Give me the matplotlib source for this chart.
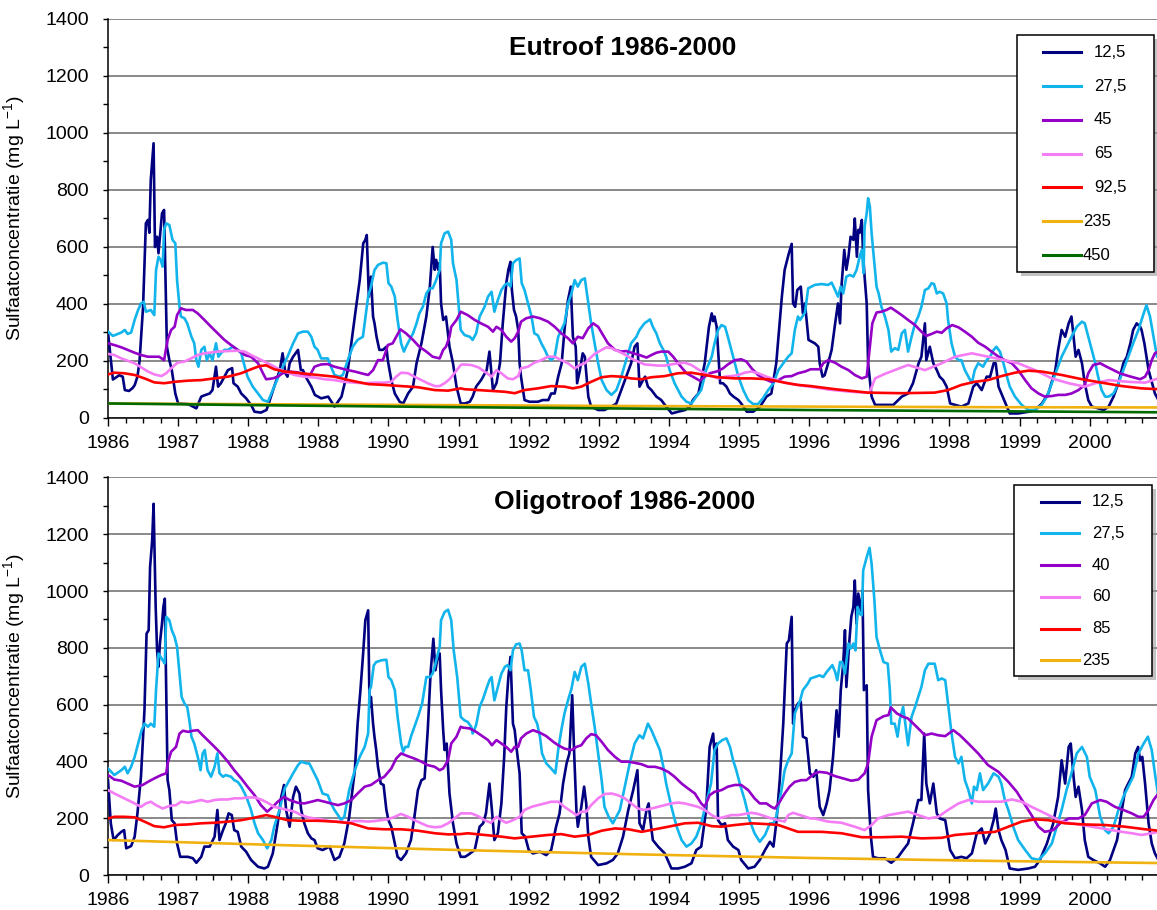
import matplotlib.pyplot as plt
import numpy as np
from matplotlib.patches import Rectangle
from matplotlib.lines import Line2D

plt.rcParams['font.family'] = ['Liberation Sans', 'DejaVu Sans']
plt.rcParams['mathtext.default'] = 'regular'

W, H = 1157, 910
START = 1986
X_END = 2000.96

tick_years = list(range(1986, 2001))
tick_labels = ['1986', '1987', '1988', '1988', '1990', '1991', '1992', '1992',
               '1994', '1995', '1996', '1996', '1998', '1999', '2000']

# (jaren na 1 jan 1986, sulfaat mg/L)
eu_125 = [(0.00,300),(0.07,135),(0.16,150),(0.21,145),(0.24,98),(0.30,95),(0.35,105),(0.38,115),(0.42,145),(0.45,200),
          (0.50,390),(0.54,683),(0.57,695),(0.59,650),(0.61,835),(0.65,964),(0.67,600),(0.70,636),(0.72,578),(0.75,660),
          (0.77,718),(0.80,730),(0.82,484),(0.84,250),(0.875,203),(0.91,168),(0.96,86),(1.00,51),(1.14,49),(1.26,34),
          (1.33,75),(1.38,80),(1.45,86),(1.49,98),(1.54,180),(1.57,110),(1.61,122),(1.66,145),(1.71,168),(1.77,175),
          (1.79,122),(1.85,110),(1.90,86),(1.97,69),(2.04,46),(2.09,22),(2.18,19),(2.26,28),(2.30,57),(2.37,110),
          (2.45,168),(2.49,227),(2.53,157),(2.56,145),(2.59,192),(2.64,215),(2.71,239),(2.75,168),(2.78,168),(2.83,140),
          (2.90,110),(2.95,81),(3.04,69),(3.14,75),(3.23,40),(3.33,75),(3.42,168),(3.52,356),(3.59,484),(3.64,613),
          (3.67,625),(3.69,642),(3.72,426),(3.75,496),(3.78,356),(3.80,333),(3.83,285),(3.87,239),(3.92,239),(3.97,250),
          (3.99,203),(4.04,133),(4.09,86),(4.16,57),(4.21,51),(4.28,86),(4.35,110),(4.40,192),(4.47,262),(4.54,356),
          (4.59,460),(4.63,600),(4.66,520),(4.68,555),(4.71,520),(4.73,545),(4.75,402),(4.78,344),(4.82,356),(4.87,250),
          (4.92,192),(4.97,110),(5.03,51),
          (5.09,51),(5.16,57),(5.20,75),(5.25,110),(5.32,133),(5.40,168),(5.44,233),(5.49,98),(5.54,122),(5.59,192),
          (5.63,332),(5.68,473),(5.71,520),(5.74,548),(5.76,449),(5.79,379),(5.82,356),(5.85,309),(5.87,192),(5.89,145),
          (5.94,63),(6.01,57),(6.13,57),(6.20,63),(6.28,63),(6.32,86),(6.37,86),(6.42,145),(6.47,192),(6.51,309),
          (6.56,414),(6.60,461),(6.63,285),(6.67,250),(6.69,122),(6.73,168),(6.77,227),(6.80,215),(6.85,75),(6.89,40),
          (6.99,28),(7.08,28),(7.18,40),(7.25,51),(7.32,98),(7.39,145),(7.46,192),(7.51,250),(7.55,262),(7.58,110),
          (7.63,133),(7.66,145),(7.70,110),(7.75,98),(7.82,75),(7.89,63),(7.96,40),(8.04,16),(8.13,22),(8.23,28),
          (8.30,40),(8.34,63),(8.42,86),(8.51,192),(8.57,320),(8.61,367),(8.63,340),(8.65,356),(8.68,320),(8.70,239),
          (8.73,122),(8.77,122),(8.82,110),(8.87,86),(8.92,75),(8.99,63),(9.03,51),(9.11,22),(9.20,22),(9.30,40),
          (9.39,75),(9.46,86),(9.53,192),(9.61,426),(9.65,520),(9.71,578),(9.75,611),(9.77,402),(9.80,390),(9.83,449),
          (9.88,461),(9.91,367),(9.94,402),(9.99,274),
          (10.08,262),(10.13,250),(10.15,192),(10.19,145),(10.22,150),(10.27,192),(10.32,239),(10.37,332),(10.41,402),
          (10.44,332),(10.46,461),(10.50,590),(10.53,520),(10.56,566),(10.59,636),(10.63,625),(10.65,700),(10.68,566),
          (10.70,660),(10.72,650),(10.75,695),(10.77,566),(10.79,496),(10.82,402),(10.84,192),(10.89,75),(10.94,46),
          (11.03,46),(11.13,46),(11.20,46),(11.27,63),(11.32,75),(11.41,86),(11.48,122),(11.56,192),(11.60,215),
          (11.65,332),(11.67,203),(11.72,250),(11.77,192),(11.82,168),(11.86,145),(11.91,133),(11.96,110),(12.01,51),
          (12.08,46),(12.17,40),(12.27,51),(12.34,110),(12.39,122),(12.46,98),(12.53,145),(12.58,145),(12.63,192),
          (12.66,192),(12.70,110),(12.74,86),(12.80,51),(12.86,16),(12.98,16),(13.13,22),(13.22,28),(13.32,51),
          (13.41,86),(13.51,168),(13.55,239),(13.60,309),(13.65,285),(13.70,332),(13.74,356),(13.77,285),(13.80,215),
          (13.84,239),(13.89,192),(13.93,122),(13.98,63),(14.03,40),(14.12,34),(14.20,28),(14.27,40),(14.34,75),
          (14.41,122),(14.48,192),(14.53,215),(14.58,262),(14.62,309),(14.67,332),(14.72,320),(14.74,309),(14.78,262),
          (14.84,168),(14.89,122),(14.93,86),(14.98,63)]

eu_275 = [(0.00,303),(0.07,288),(0.19,300),(0.24,309),(0.28,295),(0.33,300),(0.38,344),(0.42,373),(0.47,402),(0.51,408),
          (0.54,373),(0.61,379),(0.66,361),(0.685,519),(0.72,566),(0.75,555),(0.78,531),(0.80,660),(0.83,683),(0.875,677),
          (0.92,625),(0.96,613),(0.985,484),(1.02,390),(1.04,356),(1.09,350),(1.13,332),(1.16,309),(1.19,285),(1.23,262),
          (1.26,203),(1.29,180),(1.33,239),(1.375,250),(1.41,203),(1.45,227),(1.49,203),(1.54,262),(1.575,215),(1.61,227),
          (1.66,239),(1.71,239),(1.78,250),(1.85,239),(1.90,227),(1.95,180),(1.99,145),(2.065,110),(2.14,86),(2.21,63),
          (2.28,57),(2.37,110),(2.47,168),(2.56,215),(2.64,262),(2.71,297),(2.78,303),(2.85,303),(2.90,285),(2.945,250),
          (2.99,239),(3.04,209),(3.135,209),(3.18,180),(3.23,151),(3.30,145),(3.35,151),(3.42,203),(3.49,250),(3.56,274),
          (3.635,285),(3.71,426),(3.75,461),(3.80,519),(3.85,537),(3.92,545),(3.97,543),(4.00,473),(4.04,461),(4.09,426),
          (4.13,344),(4.18,262),(4.22,233),(4.25,250),(4.30,274),(4.35,297),(4.40,332),(4.44,367),(4.49,390),(4.54,437),
          (4.59,455),(4.63,455),(4.68,484),(4.73,519),(4.75,613),(4.80,648),(4.85,654),(4.895,625),(4.92,543),(4.97,484),
          (5.03,309),
          (5.085,291),(5.16,285),(5.20,274),(5.25,297),(5.30,356),(5.37,390),(5.42,426),(5.47,443),(5.51,373),(5.56,414),
          (5.61,449),(5.66,467),(5.70,473),(5.74,461),(5.775,543),(5.82,554),(5.87,560),(5.90,473),(5.94,449),(5.99,402),
          (6.04,356),(6.08,297),(6.13,290),(6.18,262),(6.23,239),(6.275,215),(6.32,203),(6.37,215),(6.42,285),(6.465,309),
          (6.51,332),(6.56,402),(6.61,437),(6.655,484),(6.70,461),(6.75,484),(6.80,490),(6.85,402),(6.89,332),(6.94,262),
          (6.99,192),(7.04,133),(7.11,98),(7.18,81),(7.25,98),(7.32,145),(7.39,203),(7.46,262),(7.535,285),(7.58,309),
          (7.65,332),(7.73,346),(7.77,320),(7.82,297),(7.87,262),(7.92,239),(7.96,215),(8.01,168),(8.08,122),(8.18,75),
          (8.25,57),(8.32,51),(8.39,75),(8.46,98),(8.53,168),(8.61,215),(8.65,262),(8.70,309),(8.75,326),(8.80,320),
          (8.84,285),(8.89,239),(8.94,192),(8.99,145),(9.06,98),(9.13,63),(9.20,49),(9.27,49),(9.34,69),(9.415,98),
          (9.49,122),(9.56,168),(9.63,192),(9.70,215),(9.75,227),(9.795,309),(9.84,356),(9.87,344),(9.94,370),
          (9.985,455),(10.08,467),(10.175,470),(10.27,467),(10.32,475),(10.37,449),(10.41,426),(10.45,461),(10.485,437),
          (10.53,496),(10.58,502),(10.63,496),(10.675,519),(10.72,566),(10.75,590),(10.775,508),(10.79,671),(10.82,718),
          (10.84,771),(10.865,742),(10.89,648),(10.93,543),(10.96,461),(10.99,437),(11.03,390),(11.08,356),(11.13,309),
          (11.17,233),(11.22,245),(11.27,239),(11.32,297),(11.365,309),(11.41,233),(11.46,285),(11.51,332),(11.555,356),
          (11.60,390),(11.65,449),(11.70,455),(11.745,473),(11.78,470),(11.82,437),(11.86,443),(11.91,437),(11.96,402),
          (11.98,344),(12.03,262),(12.08,215),(12.13,203),(12.17,203),(12.22,168),(12.27,145),(12.32,122),(12.36,168),
          (12.41,192),(12.48,180),(12.53,203),(12.58,215),(12.63,239),(12.67,250),(12.72,233),(12.77,192),(12.82,145),
          (12.86,110),(12.935,75),(13.03,46),(13.125,28),(13.22,28),(13.315,46),(13.39,75),(13.46,122),(13.53,168),
          (13.60,215),(13.67,250),(13.74,285),(13.815,320),(13.89,338),(13.93,332),(13.98,285),(14.03,239),(14.08,192),
          (14.12,145),(14.17,98),(14.22,75),(14.27,75),(14.34,86),(14.41,122),(14.48,168),(14.55,215),(14.62,262),
          (14.695,309),(14.77,367),(14.81,396),(14.86,356),(14.91,285),(14.96,215),(14.98,220)]

eu_45 = [(0.00,262),(0.09,256),(0.19,248),(0.28,239),(0.38,229),(0.47,221),(0.57,215),(0.66,215),(0.73,215),(0.80,203),
         (0.85,274),(0.90,309),(0.95,320),(0.985,361),(1.04,385),(1.11,379),(1.21,379),(1.28,367),(1.375,344),(1.47,320),
         (1.565,297),(1.66,274),(1.755,256),(1.85,239),(1.95,221),(2.04,215),(2.14,192),(2.21,157),(2.255,136),(2.35,139),
         (2.42,145),(2.49,157),(2.59,163),(2.71,160),(2.80,151),(2.87,145),(2.945,180),(3.04,188),(3.135,189),(3.23,180),
         (3.325,174),(3.42,168),(3.52,163),(3.61,157),(3.71,151),(3.78,168),(3.85,203),(3.92,203),(3.97,239),(3.99,256),
         (4.06,262),(4.11,285),(4.17,311),(4.25,297),(4.35,274),(4.44,250),(4.54,233),(4.63,215),(4.73,209),(4.78,239),
         (4.82,250),(4.87,285),(4.895,320),(4.97,344),(5.03,373),
         (5.13,361),(5.23,344),(5.32,332),(5.42,320),(5.49,303),(5.54,320),(5.61,309),(5.68,285),(5.75,268),(5.80,280),
         (5.85,303),(5.89,338),(5.965,350),(6.06,356),(6.16,350),(6.275,338),(6.37,320),(6.465,297),(6.56,280),(6.63,262),
         (6.70,285),(6.77,280),(6.85,315),(6.92,332),(6.99,320),(7.06,291),(7.13,262),(7.23,239),(7.32,233),(7.39,235),
         (7.49,227),(7.58,221),(7.68,212),(7.75,221),(7.82,229),(7.89,233),(7.99,233),(8.06,215),(8.15,186),(8.25,157),
         (8.34,145),(8.44,131),(8.51,145),(8.58,157),(8.68,163),(8.77,174),(8.84,188),(8.94,203),(9.03,206),(9.105,198),
         (9.18,174),(9.27,151),(9.37,136),(9.46,127),(9.56,133),(9.65,145),(9.75,147),(9.84,157),(9.94,163),(10.02,171),
         (10.08,171),(10.15,171),(10.20,192),(10.27,203),(10.37,194),(10.46,180),(10.56,168),(10.65,151),(10.75,139),
         (10.82,145),(10.865,250),(10.90,332),(10.96,370),(11.03,373),(11.10,379),(11.165,387),(11.25,373),(11.32,361),
         (11.41,344),(11.51,326),(11.60,303),(11.67,288),(11.745,295),(11.82,303),(11.89,299),(11.96,315),(12.04,326),
         (12.13,318),(12.22,303),(12.32,285),(12.41,264),(12.51,250),(12.60,233),(12.70,215),(12.79,203),(12.89,192),
         (12.98,168),(13.08,133),(13.17,104),(13.27,86),(13.36,75),(13.46,77),(13.55,81),(13.65,81),(13.74,86),
         (13.84,98),(13.93,116),(13.98,157),(14.05,186),(14.15,192),(14.24,180),(14.34,168),(14.43,157),(14.53,149),
         (14.62,143),(14.72,136),(14.79,145),(14.84,168),(14.885,203),(14.93,227),(14.98,233)]

eu_65 = [(0.00,225),(0.09,221),(0.19,209),(0.28,201),(0.38,192),(0.47,178),(0.57,163),(0.66,153),(0.76,147),(0.83,157),
         (0.90,174),(0.99,194),(1.09,198),(1.185,209),(1.28,221),(1.375,227),(1.47,230),(1.565,233),(1.71,235),(1.85,236),
         (1.95,233),(2.04,221),(2.14,209),(2.23,198),(2.33,186),(2.42,174),(2.52,163),(2.66,151),(2.80,145),(2.945,142),
         (3.09,136),(3.23,133),(3.37,127),(3.52,124),(3.66,122),(3.80,124),(3.94,124),(4.04,127),(4.11,145),(4.18,159),
         (4.28,157),(4.37,145),(4.47,133),(4.56,122),(4.66,112),(4.73,112),(4.80,122),(4.87,136),(4.94,157),(5.03,186),
         (5.06,188),(5.18,186),(5.28,178),(5.37,163),(5.47,145),(5.54,168),(5.61,157),(5.70,139),(5.775,136),(5.85,147),
         (5.89,174),(5.99,180),(6.08,194),(6.18,203),(6.275,215),(6.37,215),(6.465,203),(6.56,192),(6.655,174),(6.73,186),
         (6.80,192),(6.87,209),(6.94,225),(7.04,239),(7.11,248),(7.18,245),(7.27,235),(7.37,223),(7.46,209),(7.56,198),
         (7.65,188),(7.75,186),(7.845,184),(7.94,184),(8.035,188),(8.13,192),(8.225,194),(8.32,186),(8.415,171),(8.51,157),
         (8.61,147),(8.70,139),(8.80,145),(8.89,147),(8.99,151),(9.08,159),(9.18,163),(9.27,157),(9.37,147),(9.46,139),
         (9.56,131),(9.65,124),(9.75,119),(9.84,116),(9.94,112),(10.02,110),
         (10.27,100),(10.60,92),(10.84,88),(10.865,92),(10.94,139),(11.08,155),(11.22,168),(11.41,186),(11.65,168),
         (11.89,192),(12.08,215),(12.32,227),(12.55,215),(12.79,203),(12.98,192),(13.22,168),(13.46,139),(13.70,122),
         (13.93,110),(14.08,122),(14.27,133),(14.55,127),(14.79,124),(14.98,139)]

eu_925 = [(0.00,153),(0.09,159),(0.23,157),(0.38,151),(0.52,139),(0.66,125),(0.80,122),(0.95,127),(1.14,131),(1.33,133),
          (1.52,139),(1.71,145),(1.90,157),(2.04,171),(2.16,182),(2.255,185),(2.37,171),(2.52,163),(2.755,157),(2.99,151),
          (3.23,145),(3.47,131),(3.71,119),(3.94,116),(4.18,112),(4.42,108),(4.66,98),(4.85,96),(5.03,104),
          (5.085,101),(5.28,98),(5.47,95),(5.66,92),(5.80,87),(5.94,98),(6.13,104),(6.32,112),(6.51,110),(6.63,104),
          (6.75,110),(6.89,127),(7.04,143),(7.18,147),(7.32,145),(7.46,139),(7.61,136),(7.75,143),(7.94,147),(8.13,157),
          (8.32,159),(8.51,151),(8.70,143),(8.94,139),(9.18,139),(9.415,136),(9.65,124),(9.84,116),(10.02,112),
          (10.37,101),(10.84,89),(11.32,87),(11.79,89),(11.98,98),(12.17,116),(12.36,127),(12.55,133),(12.74,147),
          (12.935,159),(13.125,166),(13.315,163),(13.60,151),(13.89,136),(14.17,124),(14.46,112),(14.74,104),(14.98,101)]

eu_235 = [(0.0,51),(2.5,48),(5.0,45),(7.5,42),(10.0,40),(12.5,38),(15.0,37)]
eu_450 = [(0.0,51),(2.5,44),(5.0,38),(7.5,33),(10.0,28),(12.5,24),(15.0,20)]

ol_125 = [(0.00,334),(0.04,182),(0.08,123),(0.14,141),(0.19,152),(0.23,158),(0.26,94),(0.33,102),(0.38,135),(0.42,217),
          (0.47,346),(0.52,580),(0.55,850),(0.58,862),(0.60,1084),(0.63,1178),(0.65,1307),(0.68,944),(0.70,791),(0.72,733),
          (0.74,815),(0.77,885),(0.79,944),(0.81,973),(0.83,651),(0.85,334),(0.875,299),(0.91,193),(0.95,182),(0.985,111),
          (1.03,64),(1.14,64),(1.21,59),(1.26,43),(1.33,64),(1.375,100),(1.45,100),(1.52,135),(1.56,229),(1.59,123),
          (1.64,158),(1.68,182),(1.72,217),(1.765,211),(1.80,158),(1.85,152),(1.90,100),(1.97,82),(2.04,53),(2.14,29),
          (2.23,23),(2.28,29),(2.35,76),(2.42,182),(2.47,275),(2.51,317),(2.54,229),(2.59,170),(2.64,275),(2.68,311),
          (2.73,287),(2.755,229),(2.80,182),(2.85,147),(2.90,129),(2.945,123),(2.99,94),(3.06,88),(3.16,100),(3.23,53),
          (3.30,64),(3.37,111),(3.44,205),(3.52,369),(3.56,533),(3.60,651),(3.635,768),(3.67,897),(3.71,932),(3.73,592),
          (3.75,627),(3.78,533),(3.80,487),(3.825,440),(3.85,381),(3.89,322),(3.93,317),(3.97,229),(4.00,193),(4.04,170),
          (4.09,111),(4.13,64),(4.18,53),(4.25,76),(4.32,123),(4.37,205),(4.42,299),(4.47,334),(4.515,340),(4.56,510),
          (4.60,710),(4.64,832),(4.67,721),(4.70,768),(4.73,780),(4.75,651),(4.78,510),(4.80,440),(4.83,463),(4.87,287),
          (4.92,182),(4.97,111),(5.03,64),
          (5.09,64),(5.13,70),(5.23,88),(5.30,170),(5.35,182),(5.39,217),(5.44,322),(5.475,229),(5.51,123),(5.56,147),
          (5.61,252),(5.65,416),(5.68,592),(5.71,698),(5.74,768),(5.775,533),(5.80,510),(5.83,440),(5.87,358),(5.90,147),
          (5.95,135),(6.00,88),(6.06,76),(6.16,82),(6.25,70),(6.32,88),(6.39,170),(6.44,217),(6.49,322),(6.54,393),
          (6.58,428),(6.62,633),(6.65,416),(6.68,229),(6.70,170),(6.75,240),(6.79,311),(6.82,252),(6.85,135),(6.89,64),
          (6.99,35),(7.11,41),(7.20,53),(7.27,76),(7.345,135),(7.42,229),(7.49,299),(7.55,369),(7.58,182),(7.63,158),
          (7.68,229),(7.71,252),(7.74,182),(7.77,123),(7.845,100),(7.94,76),(8.035,23),(8.13,23),(8.225,29),(8.32,41),
          (8.39,88),(8.46,100),(8.53,229),(8.58,451),(8.63,498),(8.65,428),(8.68,463),(8.70,193),(8.75,176),(8.80,182),
          (8.84,123),(8.915,100),(8.99,88),(9.03,53),(9.13,23),(9.22,29),(9.295,53),(9.37,88),(9.44,117),(9.49,100),
          (9.53,182),(9.58,334),(9.63,533),(9.68,815),(9.71,826),(9.75,909),(9.77,533),(9.795,580),(9.84,604),(9.88,610),
          (9.91,487),(9.96,481),(10.01,358),
          (10.06,346),(10.10,369),(10.15,240),(10.20,211),(10.25,252),(10.29,299),(10.34,416),(10.39,580),(10.42,487),
          (10.45,651),(10.485,744),(10.51,862),(10.53,662),(10.57,815),(10.60,909),(10.63,944),(10.65,1037),(10.675,885),
          (10.70,991),(10.74,920),(10.76,1002),(10.78,651),(10.82,668),(10.84,299),(10.88,135),(10.91,64),(10.98,59),
          (11.08,59),(11.17,43),(11.27,64),(11.34,88),(11.41,111),(11.48,182),(11.555,264),(11.60,264),(11.64,498),
          (11.67,322),(11.72,252),(11.77,322),(11.82,217),(11.86,199),(11.94,193),(12.01,88),(12.08,59),(12.17,64),
          (12.245,59),(12.32,76),(12.39,147),(12.46,164),(12.51,111),(12.58,147),(12.63,193),(12.66,234),(12.70,158),
          (12.74,123),(12.80,88),(12.86,23),(12.98,18),(13.125,23),(13.22,29),(13.29,53),(13.39,111),(13.48,182),
          (13.55,275),(13.60,404),(13.65,322),(13.70,451),(13.73,463),(13.77,346),(13.80,275),(13.84,311),(13.89,229),
          (13.93,123),(13.98,64),(14.05,53),(14.15,41),(14.22,29),(14.29,53),(14.39,123),(14.46,229),(14.505,299),
          (14.55,322),(14.60,346),(14.65,428),(14.69,451),(14.72,404),(14.75,416),(14.79,322),(14.84,182),(14.885,111),
          (14.93,76),(14.98,53)]

ol_275 = [(0.00,375),(0.09,352),(0.19,369),(0.24,381),(0.28,358),(0.33,381),(0.38,416),(0.43,463),(0.48,510),(0.52,533),
          (0.57,522),(0.61,533),(0.66,522),(0.685,651),(0.72,780),(0.75,768),(0.78,756),(0.81,745),(0.83,909),(0.875,897),
          (0.91,862),(0.95,838),(0.985,803),(1.02,709),(1.05,627),(1.09,604),(1.13,592),(1.16,545),(1.19,487),(1.23,463),
          (1.28,416),(1.32,369),(1.35,428),(1.38,440),(1.42,369),(1.47,346),(1.52,381),(1.56,428),(1.59,358),(1.64,346),
          (1.68,352),(1.755,346),(1.80,334),(1.85,328),(1.90,311),(1.95,287),(1.99,264),(2.04,229),(2.09,182),(2.14,147),
          (2.21,123),(2.27,94),(2.33,123),(2.37,170),(2.445,229),(2.52,305),(2.56,322),(2.64,358),(2.71,387),(2.755,399),
          (2.83,393),(2.87,393),(2.92,369),(2.99,334),(3.06,287),(3.135,281),(3.18,252),(3.23,229),(3.28,211),(3.325,193),
          (3.37,205),(3.44,299),(3.52,369),(3.59,416),(3.66,451),(3.71,498),(3.73,651),(3.75,662),(3.79,738),(3.825,750),
          (3.90,756),(3.97,758),(4.00,697),(4.04,686),(4.09,651),(4.13,557),(4.18,463),(4.21,434),(4.24,451),(4.28,451),
          (4.32,487),(4.37,522),(4.42,557),(4.48,604),(4.54,697),(4.59,697),(4.63,709),(4.67,744),(4.705,780),(4.73,803),
          (4.75,897),(4.80,926),(4.85,934),(4.895,897),(4.93,791),(4.98,697),(5.03,557),
          (5.08,545),(5.13,539),(5.18,522),(5.20,498),(5.25,528),(5.30,592),(5.35,621),(5.39,651),(5.44,686),(5.47,697),
          (5.51,615),(5.56,662),(5.61,709),(5.66,733),(5.70,739),(5.74,721),(5.775,791),(5.82,812),(5.87,815),(5.90,791),
          (5.94,721),(5.99,721),(6.03,651),(6.075,557),(6.12,533),(6.16,487),(6.19,428),(6.25,393),(6.32,375),(6.38,358),
          (6.42,440),(6.465,510),(6.51,569),(6.56,615),(6.61,656),(6.655,715),(6.70,686),(6.75,733),(6.80,744),(6.85,674),
          (6.89,604),(6.94,522),(6.99,428),(7.04,334),(7.08,240),(7.14,205),(7.20,182),(7.25,205),(7.30,229),(7.37,311),
          (7.44,393),(7.51,463),(7.58,492),(7.63,481),(7.70,533),(7.75,510),(7.81,475),(7.87,440),(7.92,381),(7.96,322),
          (8.035,240),(8.11,170),(8.18,123),(8.25,100),(8.32,111),(8.39,135),(8.46,182),(8.53,252),(8.60,322),(8.65,440),
          (8.70,463),(8.76,475),(8.82,481),(8.87,451),(8.915,404),(8.96,369),(9.01,322),(9.08,264),(9.15,193),(9.22,147),
          (9.295,117),(9.37,141),(9.44,182),(9.49,182),(9.53,205),(9.605,299),(9.65,369),(9.70,404),(9.75,428),
          (9.795,569),(9.87,615),(9.91,651),(9.98,674),(10.02,692),
          (10.08,697),(10.15,703),(10.20,697),(10.25,715),(10.29,727),(10.33,739),(10.37,715),(10.40,686),(10.44,750),
          (10.47,750),(10.51,709),(10.56,815),(10.59,797),(10.63,815),(10.66,791),(10.69,944),(10.72,920),(10.75,914),
          (10.77,1073),(10.82,1119),(10.86,1152),(10.89,1096),(10.93,967),(10.96,838),(11.01,791),(11.06,750),(11.12,744),
          (11.15,651),(11.17,533),(11.22,533),(11.26,487),(11.29,545),(11.34,592),(11.37,533),(11.41,457),(11.46,557),
          (11.51,592),(11.555,627),(11.60,662),(11.65,721),(11.70,744),(11.745,744),(11.79,744),(11.84,686),(11.89,692),
          (11.94,686),(11.98,604),(12.03,498),(12.08,416),(12.13,393),(12.17,416),(12.22,334),(12.27,299),(12.32,252),
          (12.35,311),(12.39,299),(12.435,358),(12.48,299),(12.55,322),(12.63,358),(12.70,346),(12.74,322),(12.79,264),
          (12.84,229),(12.91,170),(12.98,123),(13.08,88),(13.17,59),(13.27,53),(13.36,76),(13.46,111),(13.53,170),
          (13.60,229),(13.67,299),(13.74,358),(13.815,428),(13.89,451),(13.96,416),(14.00,346),(14.08,299),(14.15,205),
          (14.22,158),(14.27,147),(14.34,170),(14.41,229),(14.48,275),(14.55,311),(14.62,346),(14.695,428),(14.77,463),
          (14.83,487),(14.885,440),(14.93,358),(14.98,275)]

ol_40 = [(0.00,352),(0.09,336),(0.19,332),(0.28,322),(0.38,311),(0.42,313),(0.495,317),(0.57,328),(0.66,340),(0.76,352),
         (0.83,358),(0.85,393),(0.90,434),(0.97,451),(1.02,498),(1.07,508),(1.14,504),(1.21,508),(1.28,510),(1.35,492),
         (1.42,475),(1.52,451),(1.61,428),(1.71,399),(1.80,369),(1.90,340),(1.99,311),(2.09,281),(2.18,246),(2.27,223),
         (2.35,240),(2.42,258),(2.51,275),(2.59,264),(2.71,254),(2.80,252),(2.90,258),(2.99,264),(3.09,258),(3.18,252),
         (3.28,246),(3.37,252),(3.47,264),(3.56,287),(3.66,311),(3.75,317),(3.85,334),(3.94,346),(4.04,375),(4.11,410),
         (4.18,428),(4.28,418),(4.37,410),(4.47,399),(4.56,387),(4.66,381),(4.73,369),(4.78,375),(4.85,404),(4.895,463),
         (4.97,487),(5.03,522),
         (5.06,519),(5.16,516),(5.25,504),(5.35,487),(5.42,475),(5.475,457),(5.54,475),(5.61,463),(5.68,451),(5.75,434),
         (5.80,451),(5.85,451),(5.89,481),(5.965,498),(6.06,510),(6.16,501),(6.25,489),(6.35,469),(6.42,457),(6.51,445),
         (6.61,440),(6.68,451),(6.75,457),(6.82,481),(6.89,496),(6.96,492),(7.04,469),(7.13,440),(7.23,416),(7.32,399),
         (7.42,399),(7.51,395),(7.61,390),(7.70,381),(7.80,381),(7.89,375),(7.99,363),(8.08,346),(8.18,322),(8.27,305),
         (8.37,287),(8.46,252),(8.51,240),(8.58,281),(8.65,293),(8.75,299),(8.84,311),(8.94,317),(9.03,317),(9.13,299),
         (9.22,270),(9.295,252),(9.39,252),(9.46,240),(9.51,234),(9.58,258),(9.65,287),(9.72,311),(9.795,328),(9.89,334),
         (9.96,334),(10.02,346),
         (10.08,358),(10.15,363),(10.25,360),(10.37,348),(10.485,340),(10.60,332),(10.70,336),(10.79,358),(10.84,393),
         (10.89,487),(10.96,545),(11.06,559),(11.13,563),(11.165,590),(11.25,569),(11.34,557),(11.41,551),(11.51,527),
         (11.58,510),(11.65,492),(11.745,498),(11.84,492),(11.94,489),(12.055,510),(12.15,492),(12.27,463),(12.41,428),
         (12.55,387),(12.70,363),(12.84,328),(12.96,293),(13.05,258),(13.17,211),(13.27,170),(13.36,152),(13.48,158),
         (13.58,182),(13.70,199),(13.84,199),(13.93,211),(14.03,252),(14.15,264),(14.24,258),(14.36,240),(14.48,229),
         (14.60,217),(14.695,205),(14.77,205),(14.84,229),(14.91,264),(14.98,287)]

ol_60 = [(0.00,299),(0.09,287),(0.19,275),(0.28,264),(0.38,252),(0.47,240),(0.54,252),(0.61,258),(0.685,246),(0.78,234),
         (0.875,243),(0.97,246),(1.04,258),(1.14,254),(1.23,258),(1.33,264),(1.42,258),(1.52,264),(1.61,266),(1.71,266),
         (1.80,270),(1.90,270),(1.99,273),(2.09,273),(2.18,266),(2.28,254),(2.37,240),(2.47,234),(2.56,229),(2.66,223),
         (2.755,211),(2.85,203),(2.945,199),(3.04,196),(3.135,191),(3.23,188),(3.325,188),(3.42,184),(3.52,190),(3.61,190),
         (3.71,188),(3.80,190),(3.90,193),(3.99,196),(4.09,205),(4.18,215),(4.28,205),(4.37,193),(4.47,182),(4.56,172),
         (4.66,168),(4.75,170),(4.85,182),(4.94,199),(5.03,217),
         (5.085,217),(5.18,217),(5.28,207),(5.37,193),(5.46,184),(5.54,205),(5.61,193),(5.68,184),(5.775,193),(5.87,205),
         (5.94,229),(6.04,240),(6.13,246),(6.23,252),(6.32,258),(6.42,258),(6.51,240),(6.61,223),(6.68,211),(6.75,223),
         (6.82,223),(6.89,246),(6.99,270),(7.08,285),(7.18,287),(7.27,281),(7.37,270),(7.46,252),(7.56,234),(7.65,229),
         (7.75,234),(7.845,240),(7.94,246),(8.035,252),(8.13,255),(8.225,252),(8.32,246),(8.415,240),(8.51,229),(8.61,211),
         (8.70,199),(8.80,205),(8.89,211),(8.99,211),(9.08,215),(9.18,219),(9.27,215),(9.37,207),(9.46,199),(9.56,193),
         (9.65,188),(9.70,211),(9.77,219),(9.87,211),(9.94,205),(10.02,199),
         (10.08,199),(10.27,188),(10.46,184),(10.65,170),(10.79,158),(10.89,176),(10.98,199),(11.13,211),(11.27,217),
         (11.41,223),(11.555,211),(11.70,199),(11.84,205),(11.98,229),(12.13,252),(12.27,264),(12.41,258),(12.55,258),
         (12.74,258),(12.89,266),(13.03,258),(13.17,240),(13.315,223),(13.46,205),(13.60,188),(13.74,182),(13.89,176),
         (14.03,170),(14.17,164),(14.315,158),(14.46,152),(14.60,147),(14.74,141),(14.885,147),(14.98,152)]

ol_85 = [(0.00,199),(0.09,205),(0.23,205),(0.38,203),(0.52,188),(0.66,172),(0.80,168),(0.95,176),(1.14,178),(1.33,182),
         (1.52,184),(1.71,188),(1.90,193),(2.09,202),(2.255,211),(2.37,205),(2.56,193),(2.755,191),(2.99,191),(3.23,188),
         (3.47,182),(3.71,164),(3.94,161),(4.18,161),(4.42,156),(4.66,147),(4.85,143),(5.03,144),
         (5.13,147),(5.37,141),(5.61,135),(5.80,129),(6.04,135),(6.275,141),(6.465,144),(6.655,135),(6.85,141),(7.04,156),
         (7.23,164),(7.42,161),(7.61,152),(7.80,161),(7.99,170),(8.225,182),(8.415,184),(8.61,172),(8.75,170),(8.94,176),
         (9.18,182),(9.415,179),(9.56,176),(9.70,164),(9.84,152),(10.02,152),
         (10.175,152),(10.46,147),(10.75,133),(11.03,133),(11.32,135),(11.60,129),(11.89,131),(12.08,141),(12.36,147),
         (12.65,152),(12.84,170),(13.03,188),(13.22,196),(13.41,193),(13.65,182),(13.93,178),(14.22,176),(14.505,170),
         (14.79,161),(14.98,156)]

ol_235 = [(0.0,123),(2.5,105),(5.0,88),(7.5,73),(10.0,60),(12.5,50),(15.0,42)]

NAVY, SKY, PURPLE, PINK, RED, GOLD, GREEN = ('#000080', '#12B4EC', '#9400C8', '#F47CF4',
                                             '#FF0000', '#F0B210', '#006A00')

eutroof = [('12,5', eu_125, NAVY), ('27,5', eu_275, SKY), ('45', eu_45, PURPLE), ('65', eu_65, PINK),
           ('92,5', eu_925, RED), ('235', eu_235, GOLD), ('450', eu_450, GREEN)]
oligotroof = [('12,5', ol_125, NAVY), ('27,5', ol_275, SKY), ('40', ol_40, PURPLE), ('60', ol_60, PINK),
              ('85', ol_85, RED), ('235', ol_235, GOLD)]


def fx(x):
    return x / W


def fy(y):
    return 1 - y / H


def draw_panel(ax, series, title, title_pos):
    for i, (label, data, color) in enumerate(series):
        data = sorted(data)
        t = START + np.array([p[0] for p in data])
        v = np.array([p[1] for p in data])
        ax.plot(t, v, color=color, lw=1.9, zorder=3 + i, solid_joinstyle='round')
    ax.set_xlim(START, X_END)
    ax.set_ylim(0, 1400)
    ax.set_yticks(range(0, 1401, 200))
    ax.set_yticks(range(100, 1400, 200), minor=True)
    ax.set_xticks(tick_years)
    ax.set_xticklabels(tick_labels)
    ax.set_xticks(np.arange(1986, 2001, 0.25), minor=True)
    ax.grid(axis='y', which='major', color='#6a6a6a', lw=1.1, zorder=1)
    ax.set_axisbelow(True)
    for side in ('top', 'right'):
        ax.spines[side].set_visible(False)
    for side in ('left', 'bottom'):
        ax.spines[side].set_color('black')
        ax.spines[side].set_linewidth(1.1)
    ax.tick_params(axis='y', which='both', length=3.4, width=1, pad=10.5, labelsize=14)
    ax.tick_params(axis='x', which='major', length=5.5, width=1, pad=7, labelsize=14)
    ax.tick_params(axis='x', which='minor', length=3.6, width=1)
    # y-as titel met superscript; centrum op ~27 px van de linkerrand
    ax.set_ylabel('Sulfaatconcentratie (mg L$^{-1}$)', fontsize=14)
    ax.yaxis.set_label_coords(-(108 - 27) / (W - 108), 0.5)
    fig.text(fx(title_pos[0]), fy(title_pos[1]), title, fontsize=19, fontweight='bold',
             ha='center', va='center')


def draw_legend(series, box, rows, line_x, text_x):
    x0, y0, x1, y1 = box
    fig.add_artist(Rectangle((fx(x0 + 4), fy(y1 + 4)), (x1 - x0) / W, (y1 - y0) / H,
                             transform=fig.transFigure, facecolor='#9a9a9a', edgecolor='none',
                             alpha=0.6, zorder=20))
    fig.add_artist(Rectangle((fx(x0), fy(y1)), (x1 - x0) / W, (y1 - y0) / H,
                             transform=fig.transFigure, facecolor='white', edgecolor='black',
                             lw=1.1, zorder=21))
    for (label, _, color), y in zip(series, rows):
        fig.add_artist(Line2D([fx(line_x[0]), fx(line_x[1])], [fy(y), fy(y)], color=color, lw=2.2,
                              transform=fig.transFigure, zorder=22))
        tx = text_x[1] if len(label) == 3 else text_x[0]
        fig.text(fx(tx), fy(y), label, fontsize=12, ha='left', va='center', zorder=23)


fig = plt.figure(figsize=(W / 100, H / 100), dpi=100)
ax_top = fig.add_axes([fx(108), fy(418), 1 - fx(108), (418 - 19) / H])
ax_bot = fig.add_axes([fx(108), fy(875), 1 - fx(108), (875 - 477.4) / H])

draw_panel(ax_top, eutroof, 'Eutroof 1986-2000', (623, 48))
draw_panel(ax_bot, oligotroof, 'Oligotroof 1986-2000', (625, 502))

draw_legend(eutroof, (1017, 35, 1154, 272), [52.3 + 33.8 * i for i in range(7)],
            (1043, 1081), (1094, 1083))
draw_legend(oligotroof, (1014, 485, 1152, 676), [501.7 + 31.7 * i for i in range(6)],
            (1041, 1079), (1092, 1082))

fig.savefig('out.png', dpi=100)
